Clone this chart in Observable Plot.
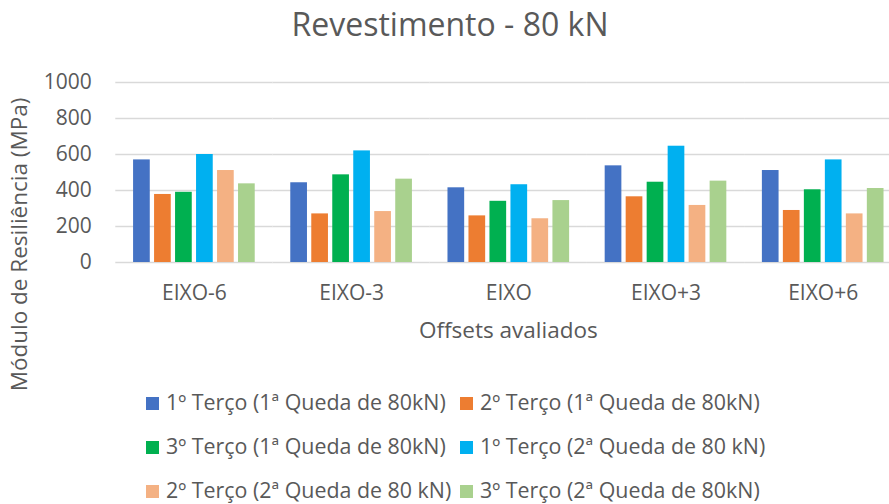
<!DOCTYPE html>
<html>
<head>
<meta charset="utf-8">
<script src="https://cdn.jsdelivr.net/npm/d3@7"></script>
<script src="https://cdn.jsdelivr.net/npm/@observablehq/plot@0.6"></script>
<style>
  body { margin: 0; background: #fff; }
  #wrap { position: relative; width: 889px; height: 504px; overflow: hidden; font-family: "Open Sans", sans-serif; color: #595959; }
  #chart { position: absolute; left: 0; top: 0; }
  .t { position: absolute; line-height: 1.2; white-space: nowrap; }
  .sw { position: absolute; width: 13px; height: 13px; }
</style>
</head>
<body>
<div id="wrap">
  <div id="chart"></div>
</div>
<script>
// ---- data ----
const chartTitle = "Revestimento - 80 kN";
const xTitle = "Offsets avaliados";
const yTitle = "Módulo de Resiliência (MPa)";
const categories = ["EIXO-6", "EIXO-3", "EIXO", "EIXO+3", "EIXO+6"];
const seriesNames = [
  "1º Terço (1ª Queda de 80kN)",
  "2º Terço (1ª Queda de 80kN)",
  "3º Terço (1ª Queda de 80kN)",
  "1º Terço (2ª Queda de 80 kN)",
  "2º Terço (2ª Queda de 80 kN)",
  "3º Terço (2ª Queda de 80kN)"
];
const seriesColors = ["#4472C4", "#ED7D31", "#00B050", "#00B0F0", "#F4B183", "#A9D18E"];
const terco1Queda1 = [570, 443, 415, 537, 511];
const terco2Queda1 = [378, 270, 259, 365, 289];
const terco3Queda1 = [390, 487, 340, 446, 404];
const terco1Queda2 = [600, 620, 432, 646, 570];
const terco2Queda2 = [511, 283, 243, 317, 270];
const terco3Queda2 = [437, 463, 344, 452, 411];
const yTicks = [0, 200, 400, 600, 800, 1000];

const seriesValues = [terco1Queda1, terco2Queda1, terco3Queda1, terco1Queda2, terco2Queda2, terco3Queda2];
const data = seriesNames.flatMap((s, i) => categories.map((c, j) => ({cat: c, series: s, value: seriesValues[i][j]})));

// ---- layout ----
const W = 889, H = 504;
const plotLeft = 115.3, plotRight = 901.3, plotTop = 82, plotBottom = 262;
const font = "'Open Sans', sans-serif";
const tickFs = 21;
const titleFs = 32;
const axisTitleFs = 22.5;
const legendFs = 21.4;

const chart = Plot.plot({
  width: W,
  height: H,
  marginTop: plotTop,
  marginBottom: H - plotBottom,
  marginLeft: plotLeft,
  marginRight: W - plotRight,
  style: {fontFamily: font, color: "#595959", background: "transparent", overflow: "visible"},
  fx: {domain: categories, padding: 0, round: false, label: null},
  x: {domain: seriesNames, paddingInner: 0.205, paddingOuter: 0.847, align: 0.5, round: false, axis: null},
  y: {domain: [0, 1000], axis: null},
  color: {domain: seriesNames, range: seriesColors},
  marks: [
    Plot.ruleY(yTicks, {stroke: "#d9d9d9", strokeWidth: 1.5}),
    Plot.barY(data, {fx: "cat", x: "series", y: "value", fill: "series", inset: 0}),
    Plot.axisY(yTicks, {tickSize: 0, tickPadding: 24, fontSize: tickFs, label: null, fill: "#595959", tickFormat: d => String(d)}),
    Plot.axisFx({anchor: "bottom", tickSize: 0, tickPadding: 23, fontSize: tickFs, label: null, fill: "#595959"})
  ]
});
document.getElementById("chart").appendChild(chart);

const wrap = document.getElementById("wrap");
function addText(txt, size, baseline, opts = {}) {
  const d = document.createElement("div");
  d.className = "t";
  d.textContent = txt;
  d.style.fontSize = size + "px";
  d.style.top = (baseline - 0.988 * size) + "px";
  if (opts.center != null) {
    d.style.left = (opts.center - 300) + "px";
    d.style.width = "600px";
    d.style.textAlign = "center";
  } else {
    d.style.left = opts.left + "px";
  }
  wrap.appendChild(d);
  return d;
}
// Title
addText(chartTitle, titleFs, 37, {center: 450});
// X title
addText(xTitle, axisTitleFs, 338.5, {center: (plotLeft + plotRight) / 2});
// Y title (rotated)
{
  const d = document.createElement("div");
  d.className = "t";
  d.textContent = yTitle;
  d.style.fontSize = axisTitleFs + "px";
  d.style.width = "400px";
  d.style.textAlign = "center";
  const h = axisTitleFs * 1.2;
  const cx = 27 - 0.388 * axisTitleFs, cy = 244.5;
  d.style.left = (cx - 200) + "px";
  d.style.top = (cy - h / 2) + "px";
  d.style.transformOrigin = "center center";
  d.style.transform = "rotate(-90deg)";
  wrap.appendChild(d);
}
// Legend
const colX = [146, 460];
const rowBase = [410.5, 454.5, 498];
seriesNames.forEach((s, i) => {
  const col = i % 2, row = Math.floor(i / 2);
  const sw = document.createElement("div");
  sw.className = "sw";
  sw.style.background = seriesColors[i];
  sw.style.left = colX[col] + "px";
  sw.style.top = (rowBase[row] - 13.5) + "px";
  wrap.appendChild(sw);
  addText(s, legendFs, rowBase[row], {left: colX[col] + 20});
});
</script>
</body>
</html>
